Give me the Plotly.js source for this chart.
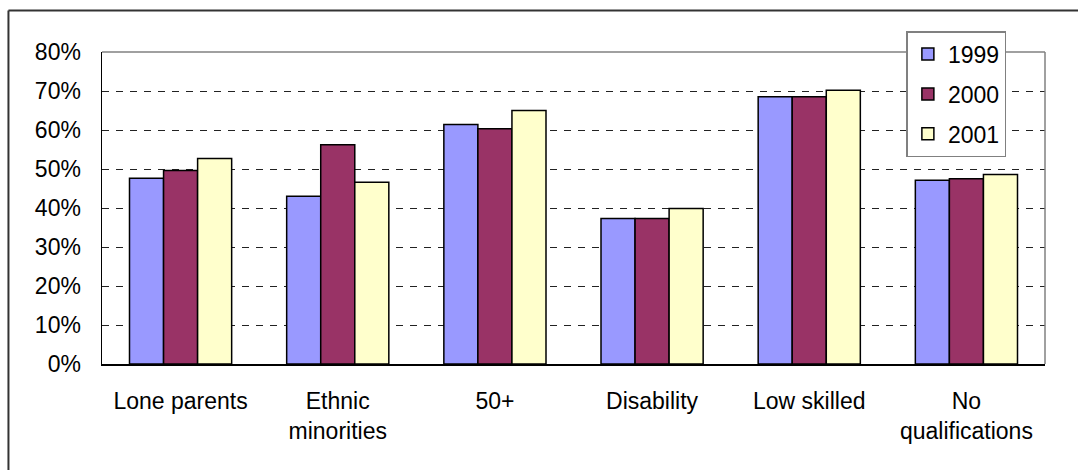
<!DOCTYPE html>
<html>
<head>
<meta charset="utf-8">
<script src="https://cdn.plot.ly/plotly-3.0.1.min.js"></script>
<style>
html,body{margin:0;padding:0;background:#fff;}
#chart{width:1078px;height:470px;}
</style>
</head>
<body>
<div id="chart"></div>
<script>
const categories = ["Lone parents", "Ethnic<br>minorities", "50+", "Disability", "Low skilled", "No<br>qualifications"];
const seriesNames = ["1999", "2000", "2001"];
const values1999 = [0.476, 0.430, 0.614, 0.373, 0.685, 0.471];
const values2000 = [0.496, 0.562, 0.603, 0.373, 0.685, 0.475];
const values2001 = [0.527, 0.466, 0.650, 0.399, 0.702, 0.486];
const colors = ["#9999FF", "#993366", "#FFFFCC"];
const tickVals = [0, 0.1, 0.2, 0.3, 0.4, 0.5, 0.6, 0.7, 0.8];
const tickText = ["0%", "10%", "20%", "30%", "40%", "50%", "60%", "70%", "80%"];

const allValues = [values1999, values2000, values2001];
const traces = allValues.map((v, i) => ({
  type: "bar",
  name: seriesNames[i],
  x: categories,
  y: v,
  legendgroup: "g" + i,
  marker: {color: colors[i], line: {color: "#000", width: 1.5}},
  hoverinfo: "x+y+name"
}));

const font = {family: "Liberation Sans, Arial, sans-serif", size: 23, color: "#000"};

const layout = {
  width: 1078, height: 470,
  margin: {l: 102, r: 33, t: 52, b: 106, pad: 0},
  paper_bgcolor: "#fff", plot_bgcolor: "#fff",
  font: font,
  barmode: "group",
  bargap: 0.35,
  bargroupgap: 0,
  showlegend: true,
  legend: {
    x: 0.853, y: 1.067, xanchor: "left", yanchor: "top",
    bgcolor: "#fff", bordercolor: "#808080", borderwidth: 1.5,
    font: font, tracegroupgap: 7, traceorder: "grouped",
    itemwidth: 30
  },
  xaxis: {
    showline: true, linecolor: "#000", linewidth: 1.5,
    ticks: "", showgrid: false, ticklabelstandoff: 16,
    tickfont: font, fixedrange: true
  },
  yaxis: {
    range: [0, 0.8], tickvals: tickVals, ticktext: tickText,
    showline: true, linecolor: "#000", linewidth: 1.5,
    showgrid: true, gridcolor: "#222", gridwidth: 1, griddash: "7px,7px",
    zeroline: false, ticks: "", ticklabelstandoff: 15,
    tickfont: font, fixedrange: true
  },
  shapes: [
    {type: "line", xref: "paper", yref: "paper", x0: 0, x1: 1, y0: 1, y1: 1,
     line: {color: "#808080", width: 1.5}, layer: "above"},
    {type: "line", xref: "paper", yref: "paper", x0: 1, x1: 1, y0: 0, y1: 1,
     line: {color: "#808080", width: 1.5}, layer: "above"},
    {type: "line", xref: "paper", yref: "paper", x0: -0.0992, x1: 1.05, y0: 1.1330, y1: 1.1330,
     line: {color: "#333", width: 2}},
    {type: "line", xref: "paper", yref: "paper", x0: -0.0992, x1: -0.0992, y0: 1.1330, y1: -0.40,
     line: {color: "#333", width: 2}}
  ]
};

Plotly.newPlot("chart", traces, layout, {displayModeBar: false, staticPlot: true});
</script>
</body>
</html>
